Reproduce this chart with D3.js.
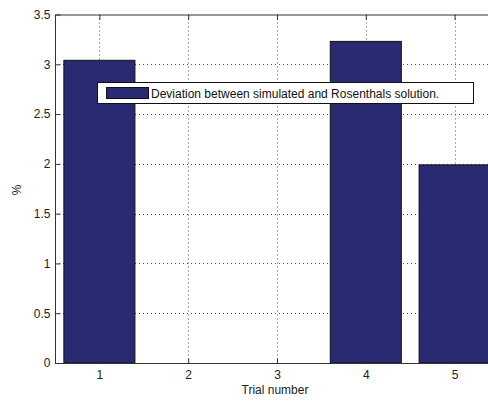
<!DOCTYPE html>
<html>
<head>
<meta charset="utf-8">
<script src="https://cdn.jsdelivr.net/npm/d3@7"></script>
<style>
  html, body { margin: 0; padding: 0; background: #fff; overflow: hidden; }
  svg { display: block; font-family: "Liberation Sans", Arial, Helvetica, sans-serif; }
</style>
</head>
<body>
<svg id="chart" width="488" height="403"></svg>
<script>
// Deviation per trial (%)
const trials = [1, 2, 3, 4, 5];
const deviation = [3.04, 0, 0, 3.23, 1.99];
const yTicks = [0, 0.5, 1, 1.5, 2, 2.5, 3, 3.5];
const seriesName = "Deviation between simulated and Rosenthals solution.";

const svg = d3.select("#chart");
const barColor = "#2a2a72";
const axisColor = "#333";

// Plot box (right side runs past the window edge)
const plotLeft = 55, plotRight = 499, plotTop = 14.5, plotBottom = 363;

const x = d3.scaleLinear().domain([0.5, 5.5]).range([plotLeft, plotRight]);
const y = d3.scaleLinear().domain([0, 3.5]).range([plotBottom, plotTop]);
const barWidth = 0.8;

// Grid (dotted)
const grid = svg.append("g").attr("stroke", "#555").attr("stroke-width", 1)
  .attr("stroke-dasharray", "1,3");
grid.selectAll("line.gx").data(trials).join("line")
  .attr("x1", d => Math.round(x(d)) + 0.5).attr("x2", d => Math.round(x(d)) + 0.5)
  .attr("y1", plotTop).attr("y2", plotBottom);
grid.selectAll("line.gy").data(yTicks.slice(1, -1)).join("line")
  .attr("x1", plotLeft).attr("x2", plotRight)
  .attr("y1", d => Math.round(y(d)) + 0.5).attr("y2", d => Math.round(y(d)) + 0.5);

// Bars
svg.append("g").selectAll("rect").data(trials).join("rect")
  .attr("x", d => x(d - barWidth / 2))
  .attr("width", d => x(d + barWidth / 2) - x(d - barWidth / 2))
  .attr("y", (d, i) => y(deviation[i]))
  .attr("height", (d, i) => y(0) - y(deviation[i]))
  .attr("fill", barColor)
  .attr("stroke", "#111")
  .attr("stroke-width", 1);

// Box
svg.append("rect")
  .attr("x", plotLeft + 0.5).attr("y", plotTop + 0.5)
  .attr("width", plotRight - plotLeft).attr("height", plotBottom - plotTop)
  .attr("fill", "none").attr("stroke", axisColor).attr("stroke-width", 1);

// Axes with inward ticks
const yAxis = d3.axisLeft(y).tickValues(yTicks).tickSize(-5).tickPadding(5)
  .tickFormat(d3.format("~g"));
const yg = svg.append("g").attr("transform", `translate(${plotLeft + 0.5},0)`).call(yAxis);

const xAxis = d3.axisBottom(x).tickValues(trials).tickSize(-5).tickPadding(7)
  .tickFormat(d3.format("d"));
const xg = svg.append("g").attr("transform", `translate(0,${plotBottom + 0.5})`).call(xAxis);

const xTop = d3.axisTop(x).tickValues(trials).tickSize(-5).tickFormat("");
const xtg = svg.append("g").attr("transform", `translate(0,${plotTop + 0.5})`).call(xTop);

[yg, xg, xtg].forEach(g => {
  g.select(".domain").remove();
  g.selectAll(".tick line").attr("stroke", axisColor);
  g.selectAll("text").attr("fill", "#222").attr("font-size", 12)
    .attr("font-family", "'Liberation Sans', Arial, sans-serif");
});

// Axis labels
svg.append("text")
  .attr("x", (plotLeft + plotRight) / 2 - 2).attr("y", 394)
  .attr("text-anchor", "middle").attr("font-size", 12).attr("fill", "#222")
  .text("Trial number");
svg.append("text")
  .attr("transform", `translate(21,190) rotate(-90)`)
  .attr("text-anchor", "middle").attr("font-size", 12).attr("fill", "#222")
  .text("%");

// Legend
const lg = svg.append("g");
lg.append("rect")
  .attr("x", 97.5).attr("y", 82.5).attr("width", 376).attr("height", 21)
  .attr("fill", "#fff").attr("stroke", "#111").attr("stroke-width", 1);
lg.append("rect")
  .attr("x", 106.5).attr("y", 87.5).attr("width", 42).attr("height", 11)
  .attr("fill", barColor).attr("stroke", "#111").attr("stroke-width", 1);
lg.append("text")
  .attr("x", 151).attr("y", 97.5).attr("font-size", 12).attr("fill", "#111")
  .text(seriesName);
</script>
</body>
</html>
